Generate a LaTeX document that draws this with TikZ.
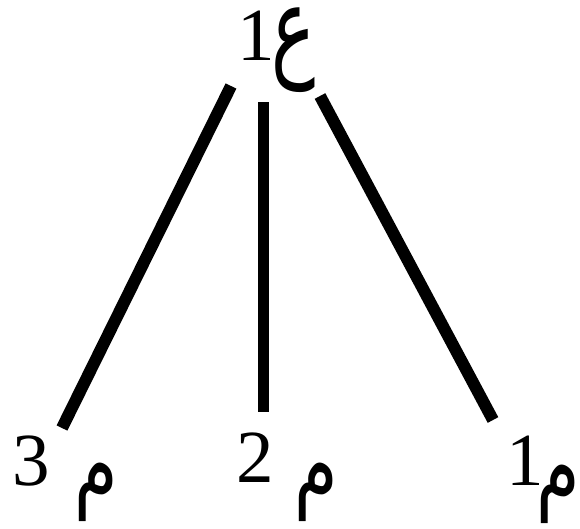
\documentclass[tikz,border=0pt]{standalone}
\usepackage{graphicx}
\usepackage{fontspec}
\setmainfont{Liberation Serif}
\newfontfamily\arabicfont[Script=Arabic]{DejaVu Sans}
\TeXXeTstate=1
\newcommand{\armeem}{\scalebox{0.95}[1.3]{\beginR م\endR}}
\newcommand{\arain}{\scalebox{1}[1.5]{\beginR ع\endR}}
\begin{document}
\begin{tikzpicture}[x=1pt,y=-1pt,
  dig/.style={inner sep=0pt, font=\fontsize{75}{75}\selectfont},
  ar/.style={inner sep=0pt, font=\arabicfont\fontsize{74}{74}\selectfont},
  bar/.style={line width=12pt}]
\useasboundingbox (0,0) rectangle (580,528);
% top label
\node[dig] (d0) at (256,36) {1};
\node[ar] (a0) at (294,50) {\arain};
% bottom labels
\node[dig] (d3) at (31,461) {3};
\node[ar] (a3) at (96,492) {\armeem};
\node[dig] (d2) at (255,458) {2};
\node[ar] (a2) at (316,492) {\armeem};
\node[dig] (d1) at (525,461) {1};
\node[ar] (a1) at (558,494) {\armeem};
% line end points
\coordinate (t3) at (231,86);
\coordinate (e3) at (62,428);
\coordinate (t2) at (263,102);
\coordinate (e2) at (263,412);
\coordinate (t1) at (320,96);
\coordinate (e1) at (493,420);
\draw[bar] (t3) -- (e3);
\draw[bar, line width=11pt] (t2) -- (e2);
\draw[bar] (t1) -- (e1);
\end{tikzpicture}
\end{document}
